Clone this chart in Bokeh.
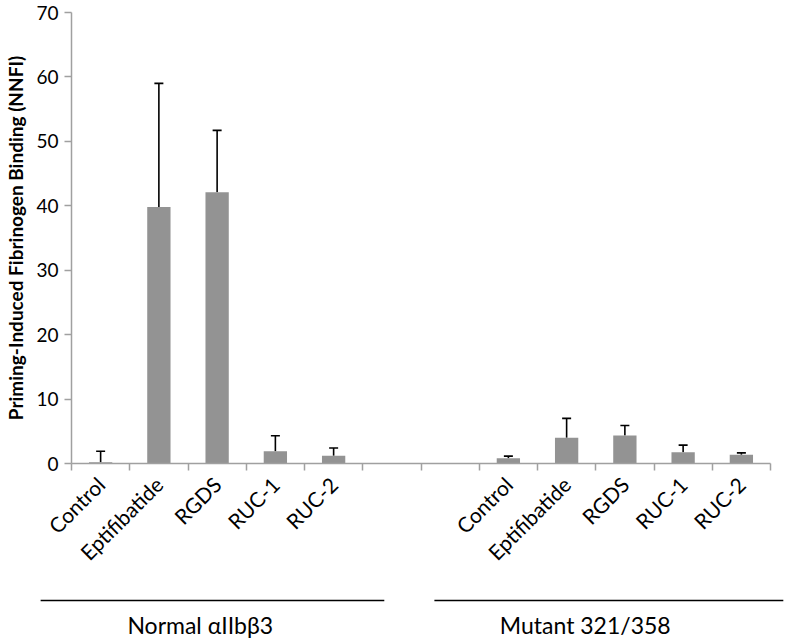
from bokeh.plotting import figure
from bokeh.models import ColumnDataSource, FixedTicker, Whisker, TeeHead, Range1d
from bokeh.layouts import column, row
from bokeh.core.properties import value
from bokeh.embed import file_html
from bokeh.resources import INLINE

# ---- data ----
treatments = ["Control", "Eptifibatide", "RGDS", "RUC-1", "RUC-2"]
normal_means = [0.2, 39.8, 42.1, 1.9, 1.2]
normal_err = [1.7, 19.2, 9.6, 2.4, 1.2]
mutant_means = [0.8, 4.0, 4.35, 1.75, 1.35]
mutant_err = [0.35, 3.0, 1.55, 1.1, 0.3]
groups = ["Normal αIIbβ3", "Mutant 321/358"]
y_ticks = [0, 10, 20, 30, 40, 50, 60, 70]

# ---- layout (slot positions on the category axis) ----
n_slots = 12
normal_slots = [0, 1, 2, 3, 4]
mutant_slots = [7, 8, 9, 10, 11]
group_bracket_x0 = [-0.53, 6.23]
group_bracket_x1 = [5.37, 12.22]
group_label_x = [2.21, 8.82]

W = 789
BORDER_L, BORDER_R = 71, 19
H1, H2 = 582, 60
FONT = "Lato"
BAR = "#939393"
AXIS = "#a0a0a0"

centers = [s + 0.5 for s in normal_slots + mutant_slots]
means = normal_means + mutant_means
errs = normal_err + mutant_err
uppers = [m + e for m, e in zip(means, errs)]
labels = treatments + treatments

src = ColumnDataSource(dict(x=centers, top=means, upper=uppers))

p = figure(width=W, height=H1, output_backend="svg", toolbar_location=None,
           x_range=Range1d(0, n_slots), y_range=Range1d(0, 70),
           min_border_left=BORDER_L, min_border_right=BORDER_R, min_border_top=12,
           min_border_bottom=H1 - 463)
p.outline_line_color = None
p.xgrid.visible = False
p.ygrid.visible = False

p.vbar(x="x", top="top", bottom=0, width=0.4, source=src,
       fill_color=BAR, line_color=None)

w = Whisker(source=src, base="x", upper="upper", lower="top",
            line_color="black", line_width=1.6, lower_head=None,
            upper_head=TeeHead(size=9, line_color="black", line_width=1.6))
p.add_layout(w)

# x axis
xa = p.xaxis[0]
xa.ticker = FixedTicker(ticks=centers, minor_ticks=list(range(n_slots + 1)))
xa.major_label_overrides = {c: l for c, l in zip(centers, labels)}
xa.major_label_orientation = 0.785398
xa.major_tick_out = 0
xa.major_tick_in = 0
xa.minor_tick_out = 7
xa.minor_tick_in = 0
xa.minor_tick_line_color = AXIS
xa.minor_tick_line_width = 1.5
xa.axis_line_color = AXIS
xa.axis_line_width = 1.5
xa.major_label_text_font = FONT
xa.major_label_text_font_size = "21px"
xa.major_label_text_color = "black"
xa.major_label_standoff = 10

# y axis
ya = p.yaxis[0]
ya.ticker = FixedTicker(ticks=y_ticks)
ya.major_tick_out = 7
ya.major_tick_in = 0
ya.minor_tick_line_color = None
ya.major_tick_line_color = AXIS
ya.major_tick_line_width = 1.5
ya.axis_line_color = AXIS
ya.axis_line_width = 1.5
ya.major_label_text_font = FONT
ya.major_label_text_font_size = "19px"
ya.major_label_text_color = "black"
ya.major_label_standoff = 6
ya.axis_label = "Priming-Induced Fibrinogen Binding (NNFI)"
ya.axis_label_text_font = FONT
ya.axis_label_text_font_style = "bold"
ya.axis_label_text_font_size = "19px"
ya.axis_label_text_color = "black"
ya.axis_label_standoff = 6

# ---- group brackets and labels, in a full-width strip aligned with the slots ----
slot_px = (W - BORDER_L - BORDER_R) / n_slots
x_lo = -BORDER_L / slot_px
x_hi = n_slots + BORDER_R / slot_px
p2 = figure(width=W, height=H2, output_backend="svg", toolbar_location=None,
            x_range=Range1d(x_lo, x_hi), y_range=Range1d(H2, 0),
            x_axis_location=None, y_axis_location=None,
            min_border=0)
p2.grid.visible = False
p2.outline_line_color = None

gsrc = ColumnDataSource(dict(x0=group_bracket_x0, x1=group_bracket_x1,
                             xt=group_label_x, text=groups))
p2.segment(x0="x0", x1="x1", y0=18, y1=18, source=gsrc,
           line_color="black", line_width=1.6)
p2.text(x="xt", y=42, text="text", source=gsrc, text_align="center",
        text_baseline="middle", text_font=value(FONT), text_font_size="23px",
        text_color="black")

layout = column(p, row(p2, spacing=0), spacing=0)
open("out.html", "w").write(file_html(layout, INLINE))
